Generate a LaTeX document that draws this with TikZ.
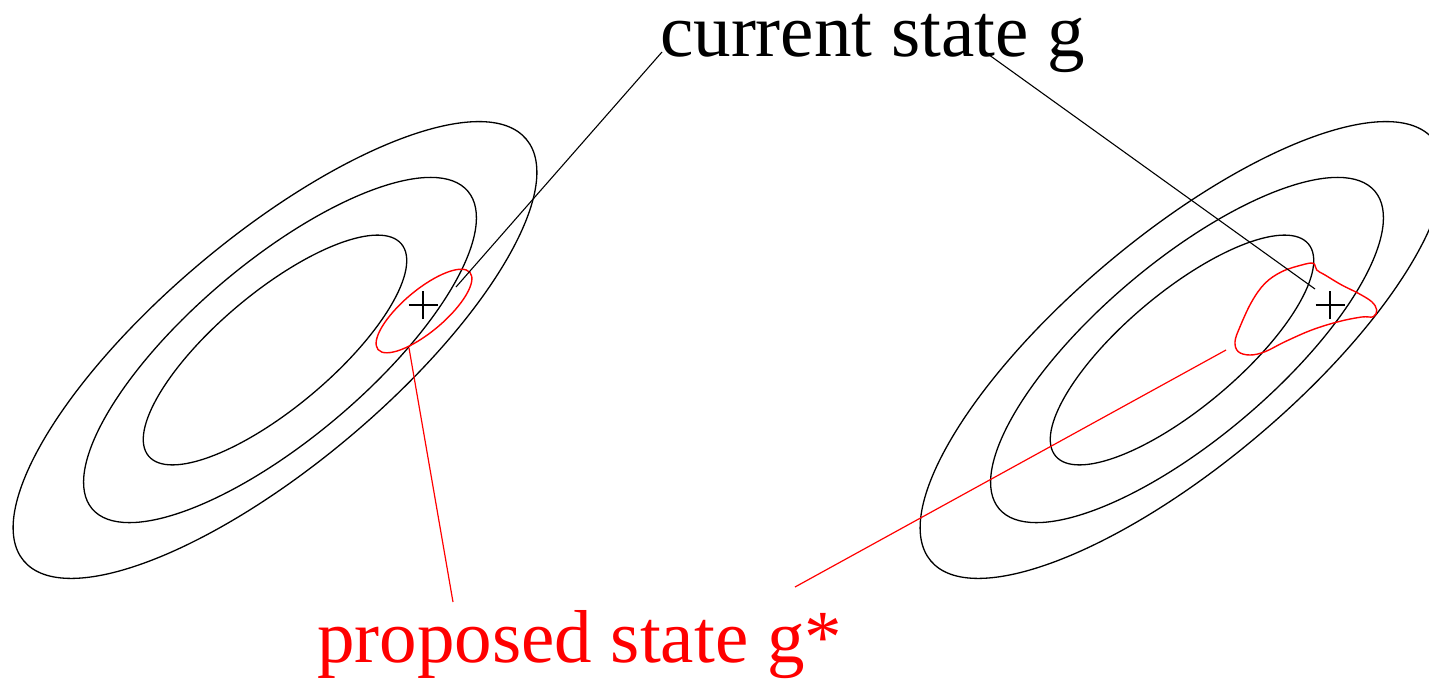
\documentclass[tikz,border=0pt]{standalone}
\usepackage{fontspec}
\setmainfont{Liberation Serif}
\begin{document}
\begin{tikzpicture}[x=1pt,y=-1pt,
  contour/.style={line width=1.3pt, black},
  proposal/.style={line width=1.4pt, red},
  leader/.style={line width=1.1pt, black},
  redleader/.style={line width=1.2pt, red},
  bigtext/.style={anchor=base west, inner sep=0pt, font=\fontsize{75}{80}\selectfont}]
\useasboundingbox (0,0) rectangle (1429,678);
\clip (0,0) rectangle (1429,678);

% contour ellipses, left and right copies
\foreach \dx in {0,907} {
  \draw[contour, rotate around={40:(275+\dx,350)}] (275+\dx,350) ellipse [x radius=165, y radius=57.6];
  \draw[contour, rotate around={40.2:(280+\dx,350)}] (280+\dx,350) ellipse [x radius=246, y radius=88.5];
  \draw[contour, rotate around={40:(275+\dx,350)}] (275+\dx,350) ellipse [x radius=328, y radius=114.5];
}

% current states (crosses)
\coordinate (gl) at (423,305);
\coordinate (gr) at (1330,305);
\draw[contour] ([xshift=-14.5pt]gl) -- ([xshift=14.5pt]gl) ([yshift=-14pt]gl) -- ([yshift=14pt]gl);
\draw[contour] ([xshift=-14.5pt]gr) -- ([xshift=14.5pt]gr) ([yshift=-14pt]gr) -- ([yshift=14pt]gr);

% proposal regions
\draw[proposal, rotate around={40:(424,311)}] (424,311) ellipse [x radius=60, y radius=21];
\draw[proposal] plot[smooth cycle, tension=0.6] coordinates {
  (1313.3,263.3) (1316.7,270) (1325,275) (1341.7,285) (1358.3,293.3) (1371.7,301.7)
  (1376.7,310) (1373.3,316.7) (1361.7,317) (1338.3,321.7) (1311.7,330) (1285,341.7)
  (1265,351.7) (1250,355) (1238.3,351.7) (1235,341.7) (1240,326.7) (1251.7,301.7)
  (1265,283.3) (1281.7,271.7) (1301.7,265)};

% labels
\node[bigtext] (cur) at (660,56) {current state g};
\node[bigtext, text=red] (prop) at (317,662) {proposed state g*};

% leader lines
\coordinate (curA) at (662,52);
\coordinate (curB) at (985,52);
\coordinate (endA) at (456,287);
\coordinate (endB) at (1315,289);
\draw[leader] (curA) -- (endA);
\draw[leader] (curB) -- (endB);

\coordinate (propA) at (453,602);
\coordinate (propB) at (795,587);
\coordinate (regA) at (409,348);
\coordinate (regB) at (1226,350);
\draw[redleader] (propA) -- (regA);
\draw[redleader] (propB) -- (regB);
\end{tikzpicture}
\end{document}
